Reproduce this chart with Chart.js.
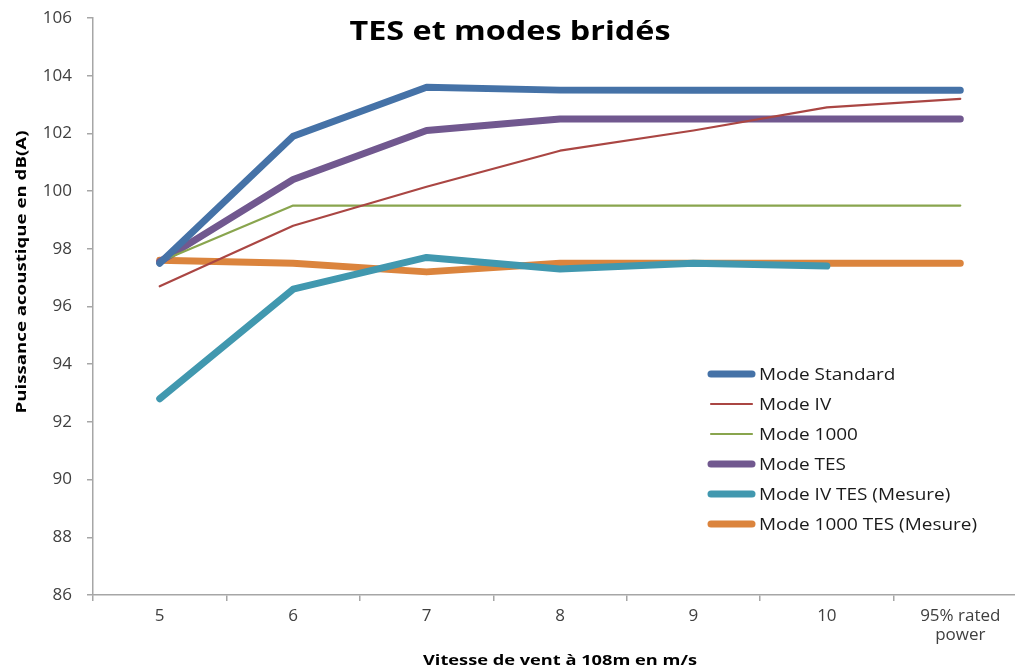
<!DOCTYPE html>
<html><head><meta charset="utf-8">
<script src="https://cdn.jsdelivr.net/npm/chart.js@4"></script>
<style>html,body{margin:0;padding:0;background:#fff;overflow:hidden;width:1015px;height:669px}#wrap{width:1040px;height:669px}</style>
</head><body><div id="wrap"><canvas id="c" width="1040" height="669"></canvas></div>
<script>
const categories = ["5","6","7","8","9","10",["95% rated","power"]];
const modeStandard = [97.5,101.9,103.6,103.5,103.5,103.5,103.5];
const modeIV = [96.7,98.8,100.15,101.4,102.1,102.9,103.2];
const mode1000 = [97.55,99.5,99.5,99.5,99.5,99.5,99.5];
const modeTES = [97.55,100.4,102.1,102.5,102.5,102.5,102.5];
const modeIVTES = [92.8,96.6,97.7,97.3,97.5,97.4,null];
const mode1000TES = [97.6,97.5,97.2,97.5,97.5,97.5,97.5];
const yTicks = [86,88,90,92,94,96,98,100,102,104,106];

const FONT = "'Open Sans', 'Liberation Sans', sans-serif";
const mk = (label, data, color, w) => ({label, data, borderColor: color, backgroundColor: color, borderWidth: w,
  pointRadius: 0, tension: 0, borderCapStyle: 'round', borderJoinStyle: 'round', spanGaps: false});

function wideText(ctx, text, x, y, targetW, rot) {
  const w = ctx.measureText(text).width;
  const sx = targetW / w;
  ctx.save();
  ctx.translate(x, y);
  if (rot) ctx.rotate(rot);
  ctx.scale(sx, 1);
  ctx.fillText(text, 0, 0);
  ctx.restore();
}

const extras = {
  id: 'extras',
  afterDraw(chart) {
    const ctx = chart.ctx;
    ctx.save();
    ctx.fillStyle = '#000';
    ctx.textAlign = 'center';
    ctx.textBaseline = 'alphabetic';
    ctx.font = "bold 27px " + FONT;
    wideText(ctx, "TES et modes bridés", 510, 40, 321, 0);
    ctx.font = "bold 15px " + FONT;
    wideText(ctx, "Vitesse de vent à 108m en m/s", 560, 665, 274, 0);
    ctx.textBaseline = 'middle';
    wideText(ctx, "Puissance acoustique en dB(A)", 22, 272, 283, -Math.PI/2);
    ctx.restore();
    // legend
    ctx.save();
    ctx.font = "16px " + FONT;
    ctx.textBaseline = 'middle';
    ctx.textAlign = 'left';
    const longest = Math.max(...chart.data.datasets.map(d => ctx.measureText(d.label).width));
    const sx = 218 / longest;
    chart.data.datasets.forEach((ds, i) => {
      const y = 374 + i * 30;
      ctx.strokeStyle = ds.borderColor;
      ctx.lineWidth = ds.borderWidth;
      ctx.lineCap = 'round';
      ctx.beginPath(); ctx.moveTo(711, y); ctx.lineTo(752, y); ctx.stroke();
      ctx.fillStyle = '#1a1a1a';
      ctx.save();
      ctx.translate(759, y + 1);
      ctx.scale(sx, 1);
      ctx.fillText(ds.label, 0, 0);
      ctx.restore();
    });
    ctx.restore();
  }
};

new Chart(document.getElementById('c'), {
  type: 'line',
  data: {
    labels: categories,
    datasets: [
      mk('Mode Standard', modeStandard, '#4572A7', 7),
      mk('Mode IV', modeIV, '#AA4643', 2.2),
      mk('Mode 1000', mode1000, '#89A54E', 2.2),
      mk('Mode TES', modeTES, '#71588F', 7),
      mk('Mode IV TES (Mesure)', modeIVTES, '#4198AF', 7),
      mk('Mode 1000 TES (Mesure)', mode1000TES, '#DB843D', 7)
    ]
  },
  options: {
    responsive: false,
    animation: false,
    layout: {padding: {left: 0, top: 18, right: 13, bottom: 0}},
    plugins: {legend: {display: false}, title: {display: false}, tooltip: {enabled: false}},
    scales: {
      x: {
        offset: true,
        grid: {offset: true, drawOnChartArea: false, tickLength: 6, color: '#A6A6A6', lineWidth: 1.5},
        border: {color: '#A6A6A6', width: 1.5},
        ticks: {color: '#404040', font: {family: FONT, size: 17, lineHeight: 1.15}, padding: 5, maxRotation: 0, autoSkip: false},
        afterFit(s) { s.height = 74; s.paddingLeft = 0; s.paddingRight = 0; }
      },
      y: {
        min: 86, max: 106,
        afterBuildTicks(s) { s.ticks = yTicks.map(v => ({value: v})); },
        grid: {drawOnChartArea: false, tickLength: 6, color: '#A6A6A6', lineWidth: 1.5},
        border: {color: '#A6A6A6', width: 1.5},
        ticks: {color: '#404040', font: {family: FONT, size: 17}, padding: 15},
        afterFit(s) { s.width = 93; s.paddingTop = 0; s.paddingBottom = 0; }
      }
    }
  },
  plugins: [extras]
});
</script></body></html>
